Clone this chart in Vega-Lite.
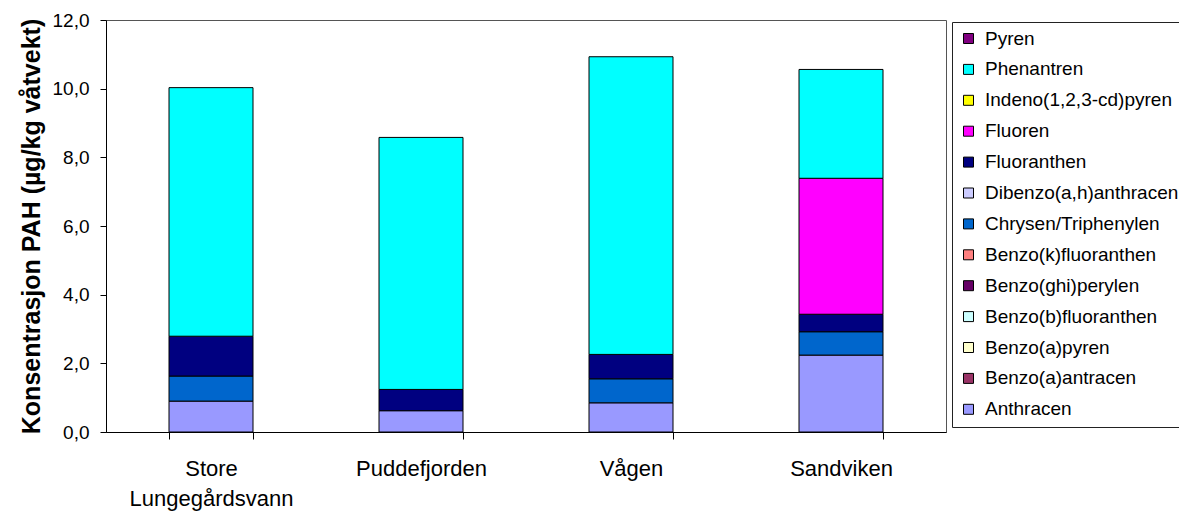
{
  "$schema": "https://vega.github.io/schema/vega-lite/v6.json",
  "width": 840,
  "height": 412,
  "autosize": {"type": "none"},
  "padding": {"left": 106, "top": 20, "right": 233, "bottom": 80},
  "background": "white",
  "config": {
    "font": "Liberation Sans",
    "view": {"stroke": "#555555", "strokeWidth": 1},
    "axis": {"grid": false, "domainColor": "black", "tickColor": "black", "labelColor": "black", "titleColor": "black"}
  },
  "data": {
    "values": [
      {"site": "Store Lungegårdsvann", "compound": "Anthracen", "value": 0.90},
      {"site": "Store Lungegårdsvann", "compound": "Chrysen/Triphenylen", "value": 0.73},
      {"site": "Store Lungegårdsvann", "compound": "Fluoranthen", "value": 1.16},
      {"site": "Store Lungegårdsvann", "compound": "Phenantren", "value": 7.24},
      {"site": "Puddefjorden", "compound": "Anthracen", "value": 0.62},
      {"site": "Puddefjorden", "compound": "Fluoranthen", "value": 0.62},
      {"site": "Puddefjorden", "compound": "Phenantren", "value": 7.34},
      {"site": "Vågen", "compound": "Anthracen", "value": 0.85},
      {"site": "Vågen", "compound": "Chrysen/Triphenylen", "value": 0.70},
      {"site": "Vågen", "compound": "Fluoranthen", "value": 0.71},
      {"site": "Vågen", "compound": "Phenantren", "value": 8.67},
      {"site": "Sandviken", "compound": "Anthracen", "value": 2.24},
      {"site": "Sandviken", "compound": "Chrysen/Triphenylen", "value": 0.68},
      {"site": "Sandviken", "compound": "Fluoranthen", "value": 0.51},
      {"site": "Sandviken", "compound": "Fluoren", "value": 3.96},
      {"site": "Sandviken", "compound": "Phenantren", "value": 3.17}
    ]
  },
  "mark": {"type": "bar", "stroke": "black", "strokeWidth": 1},
  "encoding": {
    "x": {
      "field": "site",
      "type": "nominal",
      "sort": ["Store Lungegårdsvann", "Puddefjorden", "Vågen", "Sandviken"],
      "scale": {"paddingInner": 0.6, "paddingOuter": 0.3},
      "axis": {
        "title": null,
        "labelAngle": 0,
        "labelFontSize": 22,
        "labelLineHeight": 30,
        "labelPadding": 19,
        "tickSize": 7,
        "tickBand": "extent",
        "labelExpr": "datum.value == 'Store Lungegårdsvann' ? ['Store', 'Lungegårdsvann'] : datum.value"
      }
    },
    "y": {
      "field": "value",
      "type": "quantitative",
      "aggregate": "sum",
      "stack": "zero",
      "scale": {"domain": [0, 12], "nice": false},
      "axis": {
        "title": "Konsentrasjon PAH (µg/kg våtvekt)",
        "titleFontSize": 25,
        "titleFontWeight": "bold",
        "titlePadding": 8,
        "values": [0, 2, 4, 6, 8, 10, 12],
        "labelFontSize": 19,
        "labelPadding": 11,
        "tickSize": 6,
        "labelExpr": "replace(format(datum.value, '.1f'), '.', ',')"
      }
    },
    "color": {
      "field": "compound",
      "type": "nominal",
      "scale": {
        "domain": ["Pyren", "Phenantren", "Indeno(1,2,3-cd)pyren", "Fluoren", "Fluoranthen", "Dibenzo(a,h)anthracen", "Chrysen/Triphenylen", "Benzo(k)fluoranthen", "Benzo(ghi)perylen", "Benzo(b)fluoranthen", "Benzo(a)pyren", "Benzo(a)antracen", "Anthracen"],
        "range": ["#800080", "#00FFFF", "#FFFF00", "#FF00FF", "#000080", "#CCCCFF", "#0066CC", "#FF8080", "#660066", "#CCFFFF", "#FFFFCC", "#993366", "#9999FF"]
      },
      "legend": {
        "title": null,
        "orient": "none",
        "legendX": 846,
        "legendY": 2,
        "strokeColor": "#222222",
        "padding": 7,
        "symbolType": "square",
        "symbolSize": 100,
        "symbolStrokeColor": "black",
        "symbolStrokeWidth": 1,
        "symbolOpacity": 1,
        "labelFontSize": 19,
        "labelColor": "black",
        "labelLimit": 400,
        "rowPadding": 10.9,
        "labelOffset": 7
      }
    },
    "order": {"field": "compound", "sort": "ascending"}
  }
}
